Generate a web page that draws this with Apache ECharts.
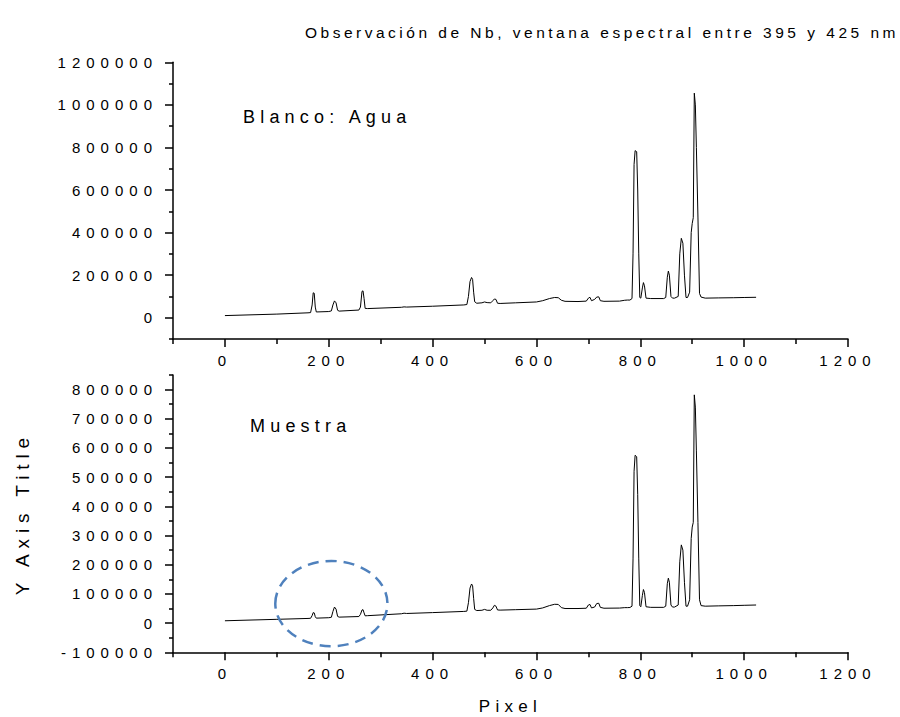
<!DOCTYPE html>
<html>
<head>
<meta charset="utf-8">
<script src="https://cdn.jsdelivr.net/npm/echarts@6/dist/echarts.min.js"></script>
<style>
html,body{margin:0;padding:0;background:#fff;}
#c{width:900px;height:717px;}
#c text{letter-spacing:0.33em;}
#c text[style*="15px"]{letter-spacing:6px;}
#c text[style*="15.5px"]{letter-spacing:3.5px;}
#c text[style*="18px"]{letter-spacing:5.2px;}
#c text[style*="19px"]{letter-spacing:5.9px;}
#c text[style*="17px"]{letter-spacing:5.3px;}
</style>
</head>
<body>
<div id="c"></div>
<script>
// ---- data ----
const pixel = [0,100,160,165,168,170,172,174,176,200,205,208,211,214,217,220,258,261,264,266,268,270,275,340,345,350,400,460,466,469,472,475,477,479,481,485,495,500,505,512,516,519,522,525,530,560,600,612,625,635,642,648,655,680,696,700,703,706,712,716,720,723,730,760,770,775,780,784,786,788,790,793,795,797,799,801,804,806,808,811,820,845,849,852,854,856,859,862,866,873,876,879,882,885,888,891,895,898,900,902,904,906,908,911,914,917,925,950,980,1000,1023];
const blanco = [10000,17000,23000,24000,60000,117000,115000,50000,27000,29000,32000,60000,79000,70000,35000,31000,36000,50000,124000,126000,90000,44000,43000,49000,51000,50000,54000,60000,62000,100000,170000,189000,180000,120000,75000,68000,70000,74000,71000,70000,80000,88000,86000,68000,67000,70000,74000,80000,90000,95000,94000,82000,77000,76000,78000,92000,96000,80000,86000,97000,98000,80000,77000,78000,82000,83000,83000,90000,300000,720000,785000,780000,600000,300000,95000,92000,140000,165000,150000,92000,90000,90000,95000,190000,219000,200000,100000,92000,92000,100000,300000,373000,350000,200000,95000,95000,120000,400000,443000,470000,1055000,1000000,800000,473000,114000,97000,92000,93000,94000,95000,96000];
const muestra = [8000,13000,16000,16500,26000,36000,35000,22000,17000,18500,20000,40000,55000,48000,23000,20500,22500,30000,45000,46000,35000,25000,25500,32000,34000,33000,36000,40000,41000,70000,120000,134000,128000,85000,47000,43000,44000,47000,44000,44000,52000,61000,58000,45000,44500,46000,48000,52000,60000,64500,64000,53000,50000,50000,51000,62000,64000,52000,55000,67000,68000,54000,51000,51500,53000,53000,53500,58000,220000,520000,575000,570000,440000,220000,60000,56000,95000,115000,105000,56000,54000,54000,58000,135000,154000,140000,62000,55000,55000,62000,210000,268000,250000,140000,58000,58000,80000,290000,329000,345000,782000,740000,590000,345000,80000,60000,58000,59000,60000,61000,62000];

const xMajorTicks = [0,200,400,600,800,1000,1200];
const xMinorTicks = [-100,100,300,500,700,900,1100];
const yTopMajor = [0,200000,400000,600000,800000,1000000,1200000];
const yTopMinor = [-100000,100000,300000,500000,700000,900000,1100000];
const yBotMajor = [-100000,0,100000,200000,300000,400000,500000,600000,700000,800000];
const yBotMinor = [-50000,50000,150000,250000,350000,450000,550000,650000,750000,850000];

const titleText = 'Observación de Nb, ventana espectral entre 395 y 425 nm';
const panelLabels = ['Blanco: Agua', 'Muestra'];
const xName = 'Pixel';
const yName = 'Y Axis Title';
// circled region in the sample panel: [pixel, value] centre and radii (data units)
const circleCentre = [205, 67000];
const circleRadius = [108, 146000];

// ---- chart ----
const FONT = 'Liberation Sans, Arial, sans-serif';
const AX = {color:'#000', width:1.5};
const plain = v => String(v);
const chart = echarts.init(document.getElementById('c'), null, {renderer:'svg'});

function xMain(g, extra){
  return Object.assign({type:'value', gridIndex:g, min:-100, max:1200, interval:100, position:'bottom',
    axisLine:{onZero:false, lineStyle:AX},
    axisTick:{customValues:xMajorTicks, length:8, lineStyle:AX},
    axisLabel:{customValues:xMajorTicks, formatter:plain, margin:14, fontSize:15, color:'#000', fontFamily:FONT},
    splitLine:{show:false}}, extra||{});
}
function xMinor(g){
  return {type:'value', gridIndex:g, min:-100, max:1200, interval:100, position:'bottom',
    axisLine:{show:false, onZero:false},
    axisTick:{customValues:xMinorTicks, length:5, lineStyle:AX},
    axisLabel:{show:false}, splitLine:{show:false}};
}
function yMain(g, min, max, major, extra){
  return Object.assign({type:'value', gridIndex:g, min:min, max:max, interval:100000, position:'left',
    axisLine:{onZero:false, lineStyle:AX},
    axisTick:{customValues:major, length:8, lineStyle:AX},
    axisLabel:{customValues:major, formatter:plain, margin:15, fontSize:15, color:'#000', fontFamily:FONT},
    splitLine:{show:false}}, extra||{});
}
function yMinor(g, min, max, minor){
  return {type:'value', gridIndex:g, min:min, max:max, interval:100000, position:'left',
    axisLine:{show:false, onZero:false},
    axisTick:{customValues:minor, length:4, lineStyle:AX},
    axisLabel:{show:false}, splitLine:{show:false}};
}

const labelGraphics = [
  {type:'text', left:243, top:108, style:{text:panelLabels[0], fontSize:18, fill:'#000', fontFamily:FONT}},
  {type:'text', left:250, top:417, style:{text:panelLabels[1], fontSize:18, fill:'#000', fontFamily:FONT}}
];

const option = {
  animation:false,
  backgroundColor:'#fff',
  textStyle:{fontFamily:FONT},
  title:{text:titleText, left:305, top:24, padding:0,
    textStyle:{fontSize:15.5, fontWeight:'normal', color:'#000', fontFamily:FONT}},
  grid:[
    {left:173, right:52, top:62.3, height:276.7},
    {left:173, right:52, top:375, height:277.3}
  ],
  xAxis:[
    xMain(0), xMinor(0),
    xMain(1, {name:xName, nameLocation:'middle', nameGap:46,
      nameTextStyle:{fontSize:17, color:'#000', fontFamily:FONT}}),
    xMinor(1)
  ],
  yAxis:[
    yMain(0, -100000, 1200000, yTopMajor), yMinor(0, -100000, 1200000, yTopMinor),
    yMain(1, -100000, 850000, yBotMajor, {name:yName, nameLocation:'middle', nameGap:141,
      nameTextStyle:{fontSize:19, color:'#000', fontFamily:FONT}}),
    yMinor(1, -100000, 850000, yBotMinor)
  ],
  series:[
    {type:'line', xAxisIndex:0, yAxisIndex:0, data:pixel.map((p,i)=>[p, blanco[i]]),
      showSymbol:false, lineStyle:{color:'#000', width:1}},
    {type:'line', xAxisIndex:2, yAxisIndex:2, data:pixel.map((p,i)=>[p, muestra[i]]),
      showSymbol:false, lineStyle:{color:'#000', width:1}}
  ],
  graphic:labelGraphics
};
chart.setOption(option);

const c0 = chart.convertToPixel({xAxisIndex:2, yAxisIndex:2}, circleCentre);
const c1 = chart.convertToPixel({xAxisIndex:2, yAxisIndex:2},
  [circleCentre[0] + circleRadius[0], circleCentre[1] + circleRadius[1]]);
chart.setOption({graphic:labelGraphics.concat([
  {type:'ellipse', z:100, shape:{cx:c0[0], cy:c0[1], rx:Math.abs(c1[0]-c0[0]), ry:Math.abs(c0[1]-c1[1])},
    style:{fill:'none', stroke:'#4f81bd', lineWidth:2.5, lineDash:[11,7]}}
])});
</script>
</body>
</html>
